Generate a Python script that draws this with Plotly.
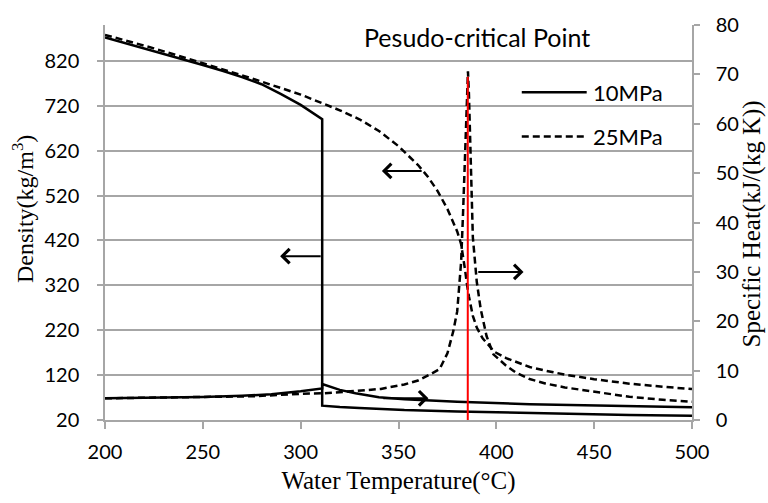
import plotly.graph_objects as go

# ---------------- data ----------------
T_rho10 = [200, 210, 220, 230, 240, 250, 260, 270, 280, 290, 300, 305, 311,
           311, 315, 320, 330, 340, 353, 380, 400, 417, 450, 468, 500]
rho10 = [872, 860, 848, 836, 823, 811, 798, 784, 768, 746, 722, 708, 690,
         52, 50.5, 49, 47, 45, 42, 39, 37, 35, 33, 31, 29.5]

T_rho25 = [200, 225, 250, 275, 300, 310, 320, 330, 340, 350, 355, 360, 365, 370, 375, 378,
           380, 382, 383, 384, 385, 386, 388, 390, 393, 396, 399, 405, 410, 417, 425, 435,
           450, 468, 485, 500]
rho25 = [878, 848, 815, 781, 745, 728, 710, 690, 664, 630, 610, 588, 562, 530, 490, 462,
         440, 412, 388, 355, 322, 295, 252, 226, 202, 186, 172, 158, 150, 138, 130, 121,
         111, 101, 94, 89]

T_cp10 = [200, 225, 250, 270, 285, 300, 306, 311, 311, 315, 320, 328, 340, 353, 380, 417, 468, 500]
cp10 = [4.4, 4.5, 4.65, 4.9, 5.2, 5.8, 6.1, 6.4, 7.3, 6.7, 6.1, 5.4, 4.6, 4.2, 3.7, 3.2, 2.8, 2.6]

T_cp25 = [200, 250, 275, 300, 311, 329, 341, 353, 360, 366, 371, 375, 378, 380, 382, 383, 384,
          385, 385.5, 386, 387, 388, 390, 392, 395, 398.5, 405, 410, 417, 425, 435, 450, 468,
          485, 500]
cp25 = [4.4, 4.7, 4.8, 5.3, 5.4, 5.9, 6.3, 7.2, 8.0, 9.2, 10.3, 13.5, 18.0, 22.0, 32, 42, 55,
        67, 70.6, 66, 50, 37, 28, 22.5, 17, 13.3, 11.0, 9.6, 8.3, 7.4, 6.6, 5.7, 4.7,
        4.1, 3.7]

x_ticks = [200, 250, 300, 350, 400, 450, 500]
rho_ticks = [20, 120, 220, 320, 420, 520, 620, 720, 820]
cp_ticks = [0, 10, 20, 30, 40, 50, 60, 70, 80]

series_names = ["10MPa", "25MPa"]
pseudo_label = "Pesudo-critical Point"
pseudo_T = 385.4
pseudo_cp_top = 69.5

# arrows: (tail T, tip T, level, axis)
arrows = [
    (311.0, 289.5, 385, "y"),
    (362.6, 341.5, 575, "y"),
    (390.0, 413.9, 30.0, "y2"),
    (341.5, 365.3, 4.4, "y2"),
]

TICK_FONT = dict(family="Lato", size=20, color="black")
SERIF = "Liberation Serif"
GRID = "#a6a6a6"
DASH = "7px,4px"

fig = go.Figure()
fig.add_trace(go.Scatter(x=T_rho10, y=rho10, mode="lines", name=series_names[0] + " density",
                         line=dict(color="black", width=2.5), yaxis="y", showlegend=False))
fig.add_trace(go.Scatter(x=T_rho25, y=rho25, mode="lines", name=series_names[1] + " density",
                         line=dict(color="black", width=2.5, dash=DASH), yaxis="y", showlegend=False))
fig.add_trace(go.Scatter(x=T_cp10, y=cp10, mode="lines", name=series_names[0] + " specific heat",
                         line=dict(color="black", width=2.5), yaxis="y2", showlegend=False))
fig.add_trace(go.Scatter(x=T_cp25, y=cp25, mode="lines", name=series_names[1] + " specific heat",
                         line=dict(color="black", width=2.5, dash=DASH), yaxis="y2", showlegend=False))

# pseudo-critical red line
fig.add_shape(type="line", xref="x", yref="y2", x0=pseudo_T, x1=pseudo_T, y0=0, y1=pseudo_cp_top,
              line=dict(color="red", width=2))

# arrows
for tail, tip, lvl, ax_ in arrows:
    fig.add_annotation(x=tip, y=lvl, ax=tail, ay=lvl, xref="x", yref=ax_, axref="x", ayref=ax_,
                       text="", showarrow=True, arrowhead=4, arrowsize=1.4, arrowwidth=2,
                       arrowcolor="black")

# manual legend
leg_y = [0.830, 0.718]
leg_dash = ["solid", DASH]
for name, yy, dd in zip(series_names, leg_y, leg_dash):
    fig.add_shape(type="line", xref="paper", yref="paper", x0=0.710, x1=0.8206, y0=yy, y1=yy,
                  line=dict(color="black", width=2.5, dash=dd))
    fig.add_annotation(x=0.828, y=yy, xref="paper", yref="paper", text=name, showarrow=False,
                       xanchor="left", yanchor="middle", font=dict(family="Lato", size=22, color="black"))

fig.add_annotation(x=(476.7 - 105) / 587, y=(420 - 35) / 397, xref="paper", yref="paper",
                   text=pseudo_label, showarrow=False, xanchor="center", yanchor="middle",
                   font=dict(family="Lato", size=25, color="black"))

# y-axis titles (placed as in the reference)
fig.add_annotation(x=(23 - 105) / 587, y=(420 - 208) / 397, xref="paper", yref="paper",
                   text="Density(kg/m<sup>3</sup>)", textangle=-90, showarrow=False,
                   xanchor="center", yanchor="middle",
                   font=dict(family=SERIF, size=24, color="black"))
fig.add_annotation(x=(752 - 105) / 587, y=(420 - 223.5) / 397, xref="paper", yref="paper",
                   text="Specific Heat(kJ/(kg K))", textangle=-90, showarrow=False,
                   xanchor="center", yanchor="middle",
                   font=dict(family=SERIF, size=25, color="black"))

fig.update_layout(
    width=768, height=503,
    margin=dict(l=105, r=76, t=23, b=83),
    paper_bgcolor="white", plot_bgcolor="white",
    showlegend=False,
    xaxis=dict(range=[200, 500], tickvals=x_ticks, showgrid=False, zeroline=False,
               showline=True, linecolor=GRID, linewidth=1.5,
               ticks="outside", ticklen=7, tickcolor=GRID, tickwidth=1.5,
               tickfont=TICK_FONT, ticklabelstandoff=6,
               title=dict(text="Water Temperature(°C)", font=dict(family=SERIF, size=25, color="black"),
                          standoff=10)),
    yaxis=dict(range=[20, 900], tickvals=rho_ticks, showgrid=True, gridcolor=GRID, gridwidth=1.5,
               zeroline=False, showline=True, linecolor=GRID, linewidth=1.5,
               ticks="outside", ticklen=6, tickcolor=GRID, tickwidth=1.5,
               tickfont=TICK_FONT, ticklabelstandoff=14),
    yaxis2=dict(range=[0, 80], tickvals=cp_ticks, overlaying="y", side="right", showgrid=False,
                zeroline=False, showline=True, linecolor=GRID, linewidth=1.5,
                ticks="outside", ticklen=6, tickcolor=GRID, tickwidth=1.5,
                tickfont=TICK_FONT, ticklabelstandoff=12),
)

fig.write_html("out.html")
